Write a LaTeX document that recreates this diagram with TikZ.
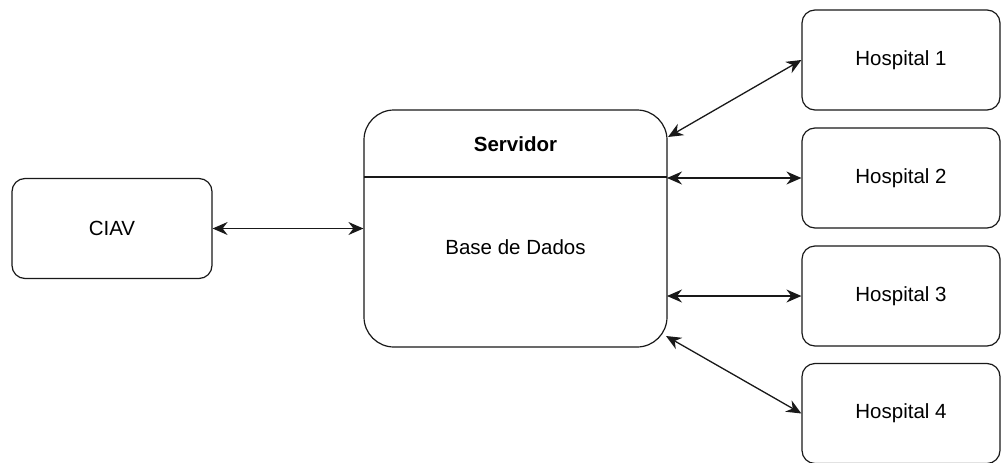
\documentclass[tikz,border=0pt]{standalone}
\usepackage{fontspec}
\setmainfont{Liberation Sans}
\usetikzlibrary{arrows.meta}
\begin{document}
\begin{tikzpicture}[x=1pt,y=-1pt,
  box/.style={draw=black!90, line width=1.2pt, rounded corners=13pt, fill=white,
    minimum width=200pt, minimum height=100pt, inner sep=0pt,
    font=\fontsize{20.5}{24}\selectfont},
  hbox/.style={box, minimum width=198pt},
  srvbox/.style={draw=black!90, line width=1.2pt, rounded corners=30pt, fill=white,
    minimum width=303pt, minimum height=237pt, inner sep=0pt},
  txt/.style={inner sep=0pt, font=\fontsize{20.5}{24}\selectfont},
  link/.style={line width=1.3pt, draw=black!90, {Stealth[length=15pt,width=13pt,inset=5pt]}-{Stealth[length=15pt,width=13pt,inset=5pt]}}
]
\useasboundingbox (0,0) rectangle (1001,463);
\clip (0,0) rectangle (1001,463);
\node[box] (ciav) at (112,228.5) {CIAV};
\node[srvbox] (srv) at (515.5,228.5) {};
\coordinate (hl) at (364,177);
\coordinate (hr) at (667,177);
\draw[line width=1.2pt, black!90] (hl) -- (hr);
\node[txt, font=\fontsize{20.5}{24}\selectfont\bfseries] (srvt) at (515.5,144) {Servidor};
\node[txt] (bd) at (515.5,247) {Base de Dados};
\node[hbox] (h1) at (901,60) {Hospital 1};
\node[hbox] (h2) at (901,178) {Hospital 2};
\node[hbox] (h3) at (901,296) {Hospital 3};
\node[hbox] (h4) at (901,413.5) {Hospital 4};
\coordinate (s1) at (668,137);
\coordinate (s2) at (667,178);
\coordinate (s3) at (667,296);
\coordinate (s4) at (666,336);
\draw[link] (ciav.east) -- (srv.west);
\draw[link] (s1) -- (h1.west);
\draw[link] (s2) -- (h2.west);
\draw[link] (s3) -- (h3.west);
\draw[link] (s4) -- (h4.west);
\end{tikzpicture}
\end{document}
